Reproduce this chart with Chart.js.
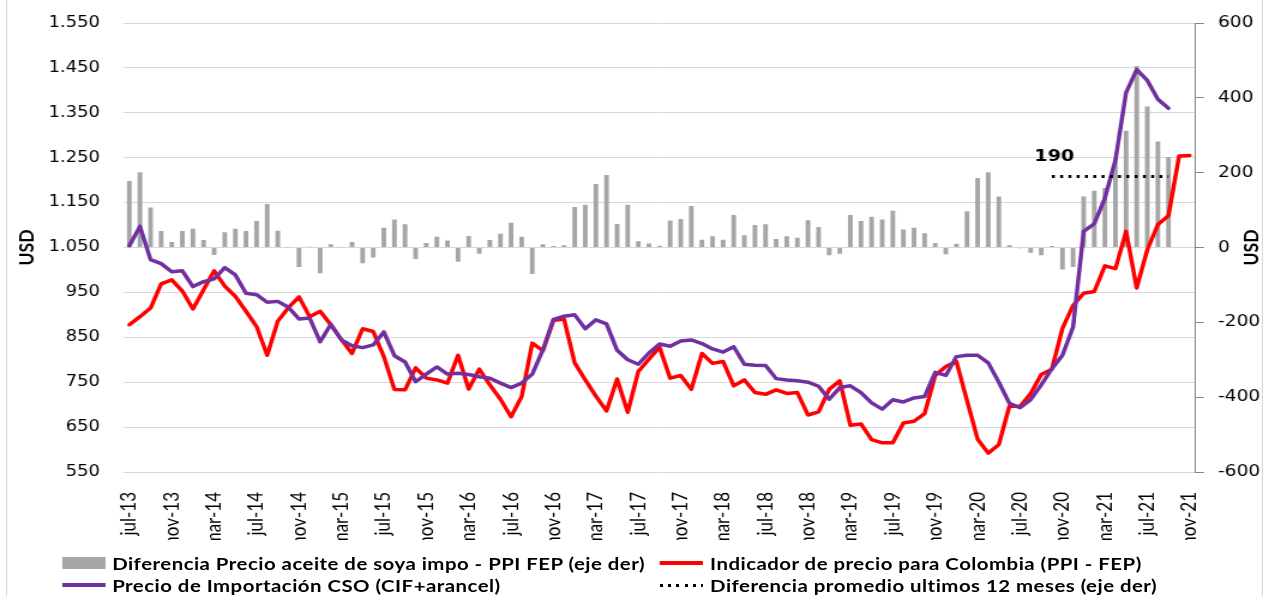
<!DOCTYPE html>
<html lang="es">
<head>
<meta charset="utf-8">
<title>Precio aceite de soya: importación vs. indicador Colombia</title>
<script src="https://cdn.jsdelivr.net/npm/chart.js@4.4.1/dist/chart.umd.min.js"></script>
<style>
  html, body { margin: 0; padding: 0; background: #fff; overflow: hidden; }
  #stage { position: absolute; left: 0; top: 0; width: 1058px; height: 596px;
           transform-origin: 0 0; transform: scaleX(1.19943); }
  #frame { position: absolute; left: 5.2px; top: -5px; width: 1047.5px; height: 610px;
           border-left: 1.5px solid #d9d9d9; border-right: 1.5px solid #d9d9d9; box-sizing: border-box; }
  #grafico { position: absolute; left: 0; top: 0; }
  #leyenda { position: absolute; left: 0; top: 552px; width: 1058px; height: 44px;
             font: bold 17px Lato, sans-serif; letter-spacing: 0.4px; color: #000; }
  .item { position: absolute; display: flex; align-items: center; height: 22px; white-space: nowrap; }
  .marca { width: 36px; margin-right: 6px; flex: none; }
</style>
</head>
<body>
<div id="stage">
  <div id="frame"></div>
  <canvas id="grafico" width="1058" height="540"></canvas>
  <div id="leyenda"></div>
</div>
<script>
// Meses jul-13 ... nov-21
const MESES = ['ene','feb','mar','abr','may','jun','jul','ago','sep','oct','nov','dic'];
const categories = [];
for (let k = 0; k < 101; k++) {
  categories.push(MESES[(6 + k) % 12] + '-' + (13 + Math.floor((6 + k) / 12)));
}

// Diferencia precio importación - PPI FEP (USD, eje derecho), jul-13 ... sep-21
const diferencia = [
  178, 201, 107, 44, 15, 44, 50, 20, -20, 41,
  50, 44, 71, 116, 45, 1, -52, 2, -69, 9,
  1, 15, -42, -27, 53, 75, 62, -31, 12, 29,
  19, -38, 31, -17, 20, 37, 66, 29, -71, 9,
  4, 6, 108, 114, 170, 194, 63, 114, 17, 11,
  5, 72, 76, 111, 21, 30, 21, 87, 33, 60,
  62, 23, 30, 26, 73, 55, -21, -17, 87, 71,
  82, 75, 98, 48, 53, 38, 12, -18, 10, 97,
  186, 201, 136, 6, -2, -14, -21, 4, -59, -52,
  136, 152, 159, 240, 312, 485, 377, 283, 241
];

// Indicador de precio para Colombia (PPI - FEP), USD, jul-13 ... nov-21
const indicadorColombia = [
  878, 896, 915, 969, 978, 953, 913, 956, 998, 964,
  941, 908, 874, 810, 886, 916, 940, 896, 908, 878,
  845, 814, 869, 863, 807, 734, 733, 782, 759, 755,
  748, 810, 735, 779, 744, 712, 673, 718, 837, 820,
  888, 890, 793, 755, 719, 686, 757, 683, 774, 801,
  828, 759, 765, 734, 814, 792, 796, 742, 755, 727,
  723, 733, 725, 727, 677, 684, 734, 753, 654, 657,
  622, 615, 615, 659, 663, 680, 765, 785, 796, 709,
  623, 592, 611, 697, 696, 725, 767, 779, 870, 921,
  948, 952, 1009, 1003, 1086, 960, 1045, 1101, 1121, 1254,
  1255
];

// Precio de importación CSO (CIF + arancel), USD, jul-13 ... sep-21
const precioImportacion = [
  1054, 1097, 1023, 1014, 996, 998, 963, 974, 980, 1005,
  989, 948, 945, 928, 930, 917, 891, 893, 840, 879,
  844, 831, 827, 833, 862, 809, 795, 751, 768, 784,
  768, 770, 767, 762, 759, 748, 738, 748, 768, 822,
  890, 897, 900, 869, 889, 880, 821, 800, 790, 815,
  835, 830, 842, 844, 836, 824, 817, 829, 790, 788,
  787, 758, 755, 753, 750, 741, 712, 738, 742, 727,
  704, 690, 711, 706, 715, 718, 772, 765, 807, 810,
  810, 793, 750, 703, 693, 711, 744, 780, 810, 873,
  1086, 1103, 1160, 1245, 1395, 1446, 1422, 1380, 1360
];

// Diferencia promedio de los últimos 12 meses (eje derecho)
const PROMEDIO_12M = 190;
const PROMEDIO_DESDE = 'oct-20';
const PROMEDIO_HASTA = 'sep-21';

// Marcas de los ejes
const ticksIzq = [550, 650, 750, 850, 950, 1050, 1150, 1250, 1350, 1450, 1550];
const ticksDer = [-600, -400, -200, 0, 200, 400, 600];

const iDesde = categories.indexOf(PROMEDIO_DESDE);
const iHasta = categories.indexOf(PROMEDIO_HASTA);
const promedioSerie = categories.map((_, i) => (i >= iDesde && i <= iHasta) ? PROMEDIO_12M : null);

const miles = v => String(v).replace(/\B(?=(\d{3})+(?!\d))/g, '.');

// Títulos "USD" de ambos ejes y rótulo del promedio
const rotulos = {
  id: 'rotulos',
  afterDatasetsDraw(chart) {
    const { ctx, chartArea, scales } = chart;
    ctx.save();
    ctx.fillStyle = '#000';
    ctx.textAlign = 'center';
    ctx.textBaseline = 'middle';
    ctx.font = 'bold 17.5px Lato';
    const yMid = (chartArea.top + chartArea.bottom) / 2;
    [22.2, chart.width - 15].forEach(x => {
      ctx.save();
      ctx.translate(x, yMid);
      ctx.rotate(-Math.PI / 2);
      ctx.fillText('USD', 0, 0);
      ctx.restore();
    });
    ctx.font = 'bold 16px "DejaVu Sans"';
    const x = scales.x.getPixelForValue(iDesde) + 2;
    const y = scales.yDer.getPixelForValue(PROMEDIO_12M) - 20;
    ctx.fillText(String(PROMEDIO_12M), x, y);
    ctx.restore();
  }
};

const chart = new Chart(document.getElementById('grafico'), {
  data: {
    labels: categories,
    datasets: [
      {
        type: 'line', label: 'Diferencia promedio ultimos 12 meses (eje der)',
        data: promedioSerie, yAxisID: 'yDer', order: 0,
        borderColor: '#000', borderWidth: 3, borderDash: [2.5, 4.4], borderCapStyle: 'butt',
        pointRadius: 0, spanGaps: false,
        leyenda: { col: 1, fila: 1, marca: 'puntos' }
      },
      {
        type: 'line', label: 'Precio de Importación CSO (CIF+arancel)',
        data: precioImportacion, yAxisID: 'yIzq', order: 1,
        borderColor: '#7030a0', borderWidth: 3.5, borderJoinStyle: 'round', borderCapStyle: 'round',
        pointRadius: 0, tension: 0,
        leyenda: { col: 0, fila: 1, marca: 'linea' }
      },
      {
        type: 'line', label: 'Indicador de precio para Colombia (PPI - FEP)',
        data: indicadorColombia, yAxisID: 'yIzq', order: 2,
        borderColor: '#ff0000', borderWidth: 3.5, borderJoinStyle: 'round', borderCapStyle: 'round',
        pointRadius: 0, tension: 0,
        leyenda: { col: 1, fila: 0, marca: 'linea' }
      },
      {
        type: 'bar', label: 'Diferencia Precio aceite de soya impo - PPI FEP (eje der)',
        data: diferencia, yAxisID: 'yDer', order: 3,
        backgroundColor: '#a6a6a6', borderWidth: 0,
        barPercentage: 0.44, categoryPercentage: 1,
        leyenda: { col: 0, fila: 0, marca: 'barra' }
      }
    ]
  },
  options: {
    responsive: false,
    maintainAspectRatio: false,
    animation: false,
    devicePixelRatio: 1,
    layout: { padding: { top: 23, left: 0, right: 0, bottom: 0 } },
    plugins: { legend: { display: false }, tooltip: { enabled: false } },
    scales: {
      x: {
        type: 'category', offset: true,
        grid: { display: false }, border: { display: false },
        ticks: {
          autoSkip: false, minRotation: 90, maxRotation: 90, padding: 12,
          color: '#000', font: { family: 'Lato', size: 17 },
          callback: (v, i) => (i % 4 === 0 ? categories[i] : null)
        },
        afterFit: s => { s.height = 68; }
      },
      yIzq: {
        position: 'left',
        min: ticksIzq[0], max: ticksIzq[ticksIzq.length - 1],
        ticks: {
          stepSize: ticksIzq[1] - ticksIzq[0], padding: 3,
          color: '#000', font: { family: 'DejaVu Sans', size: 15 },
          callback: v => miles(v)
        },
        grid: { color: '#d9d9d9', lineWidth: 1, drawTicks: true, tickLength: 17, tickColor: 'rgba(0,0,0,0)' },
        border: { display: false },
        afterFit: s => { s.width = 103.4; }
      },
      yDer: {
        position: 'right',
        min: ticksDer[0], max: ticksDer[ticksDer.length - 1],
        ticks: {
          stepSize: ticksDer[1] - ticksDer[0], padding: 11.7,
          color: '#000', font: { family: 'DejaVu Sans', size: 15.5 },
          callback: v => String(v)
        },
        grid: { drawOnChartArea: false, drawTicks: true, tickLength: 7.5, color: '#868686' },
        border: { display: true, color: '#868686', width: 1 },
        afterFit: s => { s.width = 61.7; }
      }
    }
  },
  plugins: [rotulos]
});

// Leyenda en dos columnas
const leyenda = document.getElementById('leyenda');
const colX = [51.5, 550];
chart.data.datasets.forEach(ds => {
  const cfg = ds.leyenda;
  const item = document.createElement('div');
  item.className = 'item';
  item.style.left = colX[cfg.col] + 'px';
  item.style.top = (cfg.fila * 22) + 'px';
  const m = document.createElement('span');
  m.className = 'marca';
  if (cfg.marca === 'barra') {
    m.style.height = '12px'; m.style.background = ds.backgroundColor;
  } else if (cfg.marca === 'linea') {
    m.style.height = '4px'; m.style.background = ds.borderColor;
  } else {
    m.style.height = '3px';
    m.style.background = 'repeating-linear-gradient(to right,' + ds.borderColor + ' 0 2.5px, transparent 2.5px 6.9px)';
  }
  const t = document.createElement('span');
  t.textContent = ds.label;
  item.appendChild(m);
  item.appendChild(t);
  leyenda.appendChild(item);
});
</script>
</body>
</html>
